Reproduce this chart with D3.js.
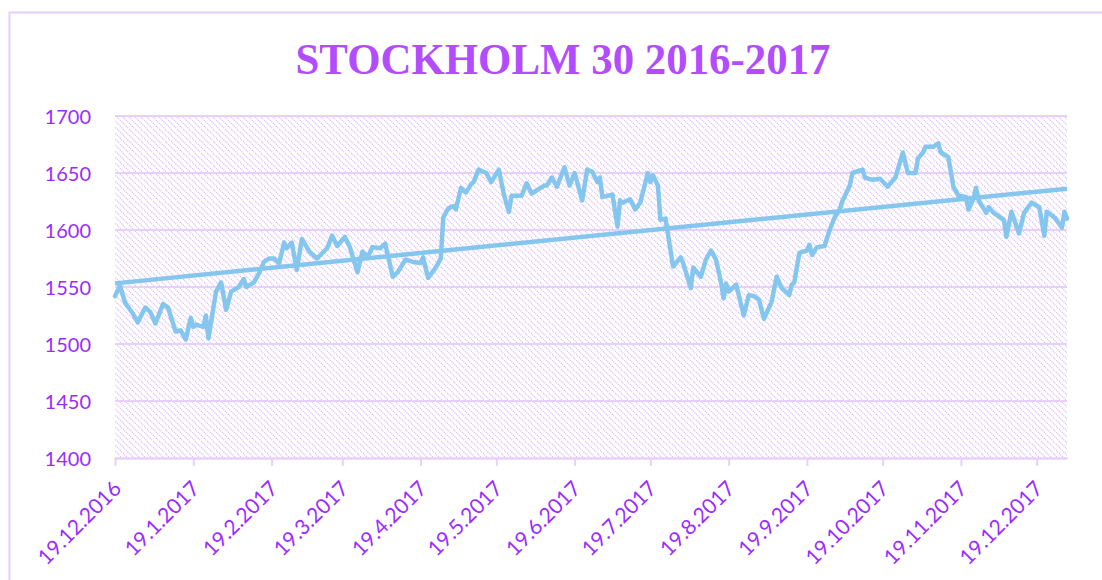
<!DOCTYPE html>
<html>
<head>
<meta charset="utf-8">
<script src="https://cdn.jsdelivr.net/npm/d3@7"></script>
<style>
  html, body { margin: 0; padding: 0; background: #ffffff; }
  svg { display: block; }
</style>
</head>
<body>
<svg id="chart" width="1102" height="580"></svg>
<script>
// ---------------- data ----------------
const title = "STOCKHOLM 30 2016-2017";

const dates = [
  "2016-12-19","2016-12-21","2016-12-23","2016-12-26","2016-12-28","2016-12-31",
  "2017-01-02","2017-01-04","2017-01-07","2017-01-09","2017-01-12","2017-01-14","2017-01-16","2017-01-18",
  "2017-01-19","2017-01-20","2017-01-23","2017-01-24","2017-01-25","2017-01-28","2017-01-30",
  "2017-02-01","2017-02-03","2017-02-06","2017-02-08","2017-02-09","2017-02-12","2017-02-14","2017-02-16",
  "2017-02-18","2017-02-20","2017-02-22","2017-02-24","2017-02-25","2017-02-27",
  "2017-03-01","2017-03-03","2017-03-06","2017-03-09","2017-03-13","2017-03-15","2017-03-17","2017-03-20",
  "2017-03-22","2017-03-25","2017-03-27","2017-03-29","2017-03-31",
  "2017-04-03","2017-04-05","2017-04-08","2017-04-10","2017-04-13","2017-04-16","2017-04-19","2017-04-20",
  "2017-04-22","2017-04-25","2017-04-27","2017-04-28","2017-04-30",
  "2017-05-02","2017-05-03","2017-05-05","2017-05-07","2017-05-09","2017-05-10","2017-05-12","2017-05-15",
  "2017-05-17","2017-05-20","2017-05-22","2017-05-24","2017-05-25","2017-05-29","2017-05-31",
  "2017-06-02","2017-06-07","2017-06-08","2017-06-10","2017-06-12","2017-06-15","2017-06-17","2017-06-19",
  "2017-06-22","2017-06-24","2017-06-26","2017-06-28","2017-06-29","2017-06-30",
  "2017-07-04","2017-07-06","2017-07-07","2017-07-08","2017-07-11","2017-07-13","2017-07-15","2017-07-18",
  "2017-07-19","2017-07-20","2017-07-22","2017-07-23","2017-07-25","2017-07-28","2017-07-31",
  "2017-08-01","2017-08-04","2017-08-05","2017-08-08","2017-08-10","2017-08-12","2017-08-14","2017-08-16",
  "2017-08-17","2017-08-18","2017-08-19","2017-08-22","2017-08-25","2017-08-27","2017-08-29","2017-08-31",
  "2017-09-02","2017-09-05","2017-09-07","2017-09-09","2017-09-12","2017-09-13","2017-09-14","2017-09-16",
  "2017-09-19","2017-09-20","2017-09-21","2017-09-23","2017-09-26","2017-09-28","2017-09-30",
  "2017-10-02","2017-10-03","2017-10-06","2017-10-07","2017-10-11","2017-10-12","2017-10-15","2017-10-18",
  "2017-10-21","2017-10-24","2017-10-25","2017-10-27","2017-10-28","2017-10-29",
  "2017-11-01","2017-11-02","2017-11-04","2017-11-05","2017-11-08","2017-11-10","2017-11-11","2017-11-14",
  "2017-11-16","2017-11-18","2017-11-21","2017-11-22","2017-11-24","2017-11-25","2017-11-26","2017-11-29",
  "2017-11-30","2017-12-02","2017-12-04","2017-12-06","2017-12-07","2017-12-09","2017-12-12","2017-12-14",
  "2017-12-17","2017-12-20","2017-12-22","2017-12-23","2017-12-26","2017-12-29","2017-12-30","2017-12-31"
];

const values = [
  1542,1551,1536,1527,1519,1532,
  1528,1518,1535,1532,1511,1512,1504,1523,
  1515,1517,1515,1525,1505,1546,1554,
  1530,1546,1550,1557,1550,1554,1562,1572,
  1575,1575,1571,1589,1584,1589,
  1565,1592,1581,1575,1584,1595,1586,1594,
  1585,1563,1581,1576,1585,
  1584,1588,1559,1563,1574,1572,1571,1576,
  1558,1567,1575,1611,1619,
  1621,1618,1637,1633,1640,1642,1653,1650,
  1642,1653,1631,1616,1630,1630,1641,
  1632,1639,1639,1646,1638,1655,1639,1650,
  1626,1653,1651,1642,1646,1629,
  1631,1603,1626,1624,1627,1618,1624,1650,
  1642,1648,1639,1609,1610,1568,1576,
  1571,1549,1567,1559,1574,1582,1574,1554,
  1540,1553,1546,1552,1525,1543,1542,1539,
  1522,1537,1559,1549,1543,1552,1554,1580,
  1582,1587,1578,1585,1586,1600,1611,
  1618,1625,1639,1650,1653,1646,1644,1645,
  1638,1646,1653,1668,1659,1650,
  1650,1663,1668,1673,1673,1676,1668,1664,
  1638,1630,1629,1618,1628,1637,1626,1615,
  1620,1615,1612,1609,1594,1616,1597,1615,
  1624,1620,1595,1616,1611,1602,1616,1610
];

const tickDates = [
  "2016-12-19","2017-01-19","2017-02-19","2017-03-19","2017-04-19","2017-05-19","2017-06-19",
  "2017-07-19","2017-08-19","2017-09-19","2017-10-19","2017-11-19","2017-12-19"
];
const yTicks = [1400, 1450, 1500, 1550, 1600, 1650, 1700];
const xDomain = ["2016-12-19", "2017-12-31"];

// ---------------- drawing ----------------
const parse = d3.timeParse("%Y-%m-%d");
const fmt = d3.timeFormat("%-d.%-m.%Y");
const data = dates.map((d, i) => ({ date: parse(d), value: values[i] }));

const svg = d3.select("#chart");
const plot = { left: 115, right: 1067, top: 116, bottom: 458 };

const x = d3.scaleTime().domain(xDomain.map(parse)).range([plot.left, plot.right]);
const y = d3.scaleLinear().domain([yTicks[0], yTicks[yTicks.length - 1]]).range([plot.bottom, plot.top]);

const lavender = "#e8d0fd";
const purpleText = "#9b2cff";
const lineColor = "#85c6ee";

// chart border
svg.append("rect")
  .attr("x", 9.5).attr("y", 12.5)
  .attr("width", 1200).attr("height", 700)
  .attr("fill", "none")
  .attr("stroke", "#e6cdfd")
  .attr("stroke-width", 2);

// hatch pattern
const defs = svg.append("defs");
const pat = defs.append("pattern")
  .attr("id", "hatch")
  .attr("patternUnits", "userSpaceOnUse")
  .attr("width", 6).attr("height", 6);
pat.append("rect").attr("width", 6).attr("height", 6).attr("fill", "#ffffff");
pat.append("path")
  .attr("d", "M0,0 L6,6 M-3,3 L3,9 M3,-3 L9,3")
  .attr("stroke", "#dcbafb")
  .attr("stroke-width", 1.1)
  .attr("stroke-dasharray", "1.2,0.9");

svg.append("rect")
  .attr("x", plot.left).attr("y", plot.top)
  .attr("width", plot.right - plot.left).attr("height", plot.bottom - plot.top)
  .attr("fill", "url(#hatch)");

// title
svg.append("text")
  .attr("x", 563).attr("y", 74)
  .attr("text-anchor", "middle")
  .attr("font-family", "'Liberation Serif', 'DejaVu Serif', serif")
  .attr("font-weight", "bold")
  .attr("font-size", 45)
  .attr("fill", "#b14dff")
  .attr("textLength", 535)
  .attr("lengthAdjust", "spacingAndGlyphs")
  .text(title);

// horizontal gridlines
svg.append("g")
  .selectAll("line")
  .data(yTicks.slice(1))
  .join("line")
  .attr("x1", plot.left).attr("x2", plot.right)
  .attr("y1", d => y(d)).attr("y2", d => y(d))
  .attr("stroke", lavender)
  .attr("stroke-width", 2);

// y axis labels
const yAxis = d3.axisLeft(y).tickValues(yTicks).tickFormat(d3.format("d")).tickSize(0).tickPadding(0);
const gy = svg.append("g").attr("transform", `translate(${plot.left - 24},0)`).call(yAxis);
gy.select(".domain").remove();
gy.selectAll("text")
  .attr("font-family", "Lato, 'Open Sans', sans-serif")
  .attr("font-size", 20)
  .attr("fill", purpleText)
  .attr("dy", "0.35em");

// x axis
const xAxis = d3.axisBottom(x)
  .tickValues(tickDates.map(parse))
  .tickFormat(fmt)
  .tickSize(8)
  .tickSizeOuter(0);
const gx = svg.append("g").attr("transform", `translate(0,${plot.bottom})`).call(xAxis);
gx.select(".domain").attr("stroke", lavender).attr("stroke-width", 2.5);
gx.selectAll(".tick line").attr("stroke", lavender).attr("stroke-width", 2);
gx.selectAll(".tick text")
  .attr("font-family", "Lato, 'Open Sans', sans-serif")
  .attr("font-size", 21)
  .attr("fill", purpleText)
  .attr("text-anchor", "end")
  .attr("y", 0).attr("dy", 0)
  .attr("transform", "translate(7,32) rotate(-45)");

// trend line (least-squares over the series)
const xs = data.map(d => +d.date);
const ys = data.map(d => d.value);
const mx = d3.mean(xs), my = d3.mean(ys);
const slope = d3.sum(xs, (v, i) => (v - mx) * (ys[i] - my)) / d3.sum(xs, v => (v - mx) * (v - mx));
const intercept = my - slope * mx;
const x0 = data[0].date, x1 = x.domain()[1];
const trend = [
  { date: x0, value: intercept + slope * +x0 },
  { date: x1, value: intercept + slope * +x1 }
];

const lineGen = d3.line().x(d => x(d.date)).y(d => y(d.value));

svg.append("path")
  .datum(data)
  .attr("d", lineGen)
  .attr("fill", "none")
  .attr("stroke", lineColor)
  .attr("stroke-width", 4.5)
  .attr("stroke-linejoin", "round")
  .attr("stroke-linecap", "round");

svg.append("path")
  .datum(trend)
  .attr("d", lineGen)
  .attr("fill", "none")
  .attr("stroke", lineColor)
  .attr("stroke-width", 4.5);
</script>
</body>
</html>
